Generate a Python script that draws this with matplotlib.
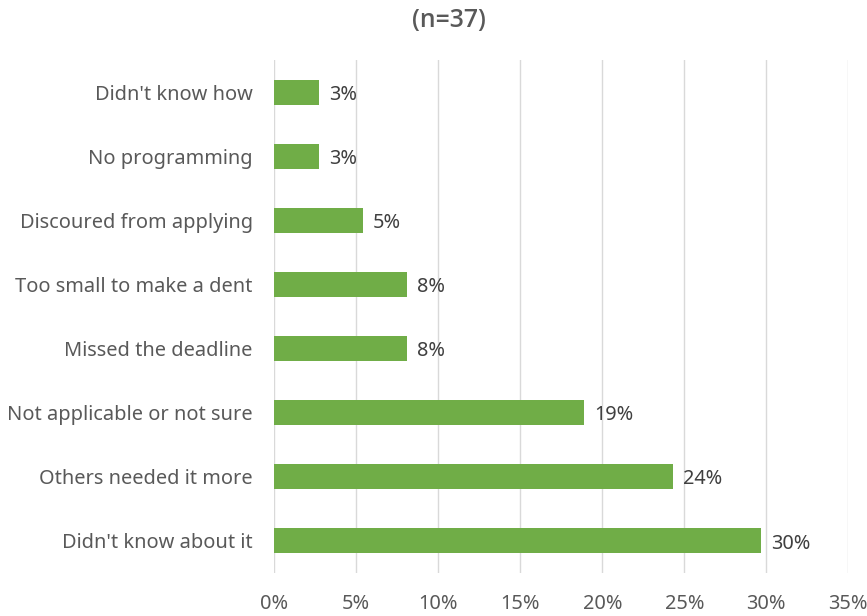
import matplotlib
matplotlib.use("Agg")
import matplotlib.pyplot as plt
from matplotlib.ticker import FuncFormatter

categories = ["Didn't know how", "No programming", "Discoured from applying",
              "Too small to make a dent", "Missed the deadline",
              "Not applicable or not sure", "Others needed it more",
              "Didn't know about it"]
values = [2.7, 2.7, 5.4, 8.1, 8.1, 18.9, 24.3, 29.7]
labels = ["3%", "3%", "5%", "8%", "8%", "19%", "24%", "30%"]
xticks = [0, 5, 10, 15, 20, 25, 30, 35]

plt.rcParams['font.family'] = ['Noto Sans', 'DejaVu Sans']
txt = '#595959'

fig = plt.figure(figsize=(8.67, 6.16), dpi=100)
ax = fig.add_axes([0.3164, 0.0698, 0.662, 0.8328])

ypos = list(range(len(categories)))
ax.barh(ypos, values, height=0.39, color='#70AD47', zorder=3)
for y, v, l in zip(ypos, values, labels):
    ax.text(v + 0.62, y + 0.04, l, va='center', ha='left', fontsize=14.3, color='#404040')

ax.set_xlim(0, 35)
ax.set_ylim(len(categories) - 0.5, -0.5)
ax.set_yticks(ypos)
ax.set_yticklabels(categories, fontsize=14.4, color=txt)
ax.set_xticks(xticks)
ax.xaxis.set_major_formatter(FuncFormatter(lambda v, p: f"{int(v)}%"))
ax.tick_params(axis='x', labelsize=14.4, colors=txt, length=0, pad=15)
ax.tick_params(axis='y', length=0, pad=15.5)
ax.grid(axis='x', color='#d9d9d9', linewidth=1, zorder=0)
for s in ax.spines.values():
    s.set_visible(False)

fig.text(0.518, 0.966, "(n=37)", ha='center', va='center', fontsize=17.8,
         family=['Open Sans', 'DejaVu Sans'], fontweight='semibold', color=txt)

fig.savefig("out.png", dpi=100)
